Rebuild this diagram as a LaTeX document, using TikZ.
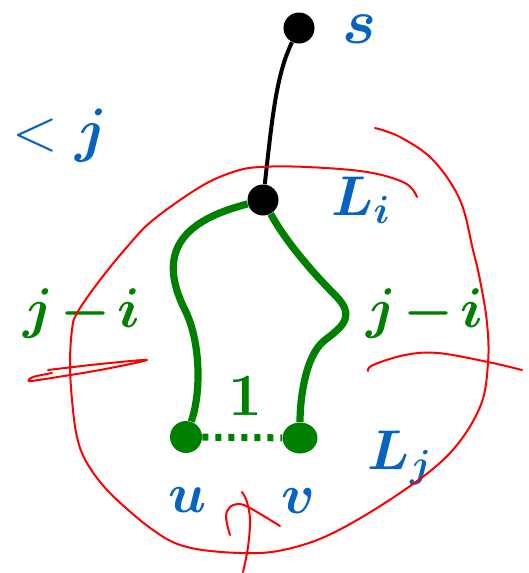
\documentclass[tikz,border=0pt]{standalone}
\usepackage{fix-cm}
\usepackage{amsmath}
\usepackage{xcolor}
\usepackage{tikz}
\usetikzlibrary{shapes.geometric}

\definecolor{lblue}{RGB}{5,99,193}
\definecolor{lgreen}{RGB}{0,128,0}

\begin{document}
\begin{tikzpicture}[
    x=0.5pt, y=-0.5pt,
    dot/.style={circle, fill=black, inner sep=0pt, minimum size=15.5pt},
    gdot/.style={circle, fill=lgreen, inner sep=0pt, minimum size=16pt},
    blk/.style={draw=black, line width=2pt},
    grn/.style={draw=lgreen, line width=3.6pt},
    cut/.style={draw=red, line width=1pt, line cap=round, line join=round},
    bl/.style={text=lblue, inner sep=0pt, font=\fontsize{28}{30}\selectfont\boldmath},
    gl/.style={text=lgreen, inner sep=0pt, font=\fontsize{28}{30}\selectfont\boldmath}
]
\useasboundingbox (0,0) rectangle (529,573);

% Vertices
\node[dot] (s)  at (299,28)  {};
\node[dot] (Li) at (263,200) {};
\node[gdot] (u) at (186,437) {};
\node[gdot, ellipse, minimum width=17.5pt, minimum height=15.5pt] (v) at (300,438) {};

% Paths
\draw[blk] (s) .. controls (276,75) and (272,120) .. (Li);
\draw[grn] (Li) .. controls (185,220) and (155,250) .. (185,310)
    .. controls (200,340) and (202,390) .. (u);
\draw[grn] (Li) .. controls (285,240) and (310,270) .. (335,295)
    .. controls (355,315) and (345,325) .. (325,340)
    .. controls (305,355) and (300,400) .. (v);
\draw[lgreen, line width=3.5pt, dash pattern=on 3pt off 3.5pt] (u) -- (v);

% Labels
\node[bl, font=\fontsize{32}{34}\selectfont\boldmath] (slab) at (359,29) {$s$};
\node[bl, font=\fontsize{30}{32}\selectfont] (lessj) at (60,136) {$<\boldsymbol{j}$};
\node[bl] (Lilab) at (361,200) {$L_i$};
\node[bl] (Ljlab) at (400,458) {$L_j$};
\node[bl] (ulab) at (188,500) {$u$};
\node[bl] (vlab) at (298,501) {$v$};
\node[gl] (leftji) at (82,314) {$j\mskip2mu{-}\mskip2mu i$};
\node[gl] (rightji) at (425,314) {$j\mskip2mu{-}\mskip2mu i$};
\node[gl, font=\fontsize{30}{32}\selectfont\boldmath] (one) at (245,396) {$1$};

% Hand-drawn cut strokes
\draw[cut] plot[smooth, tension=0.6] coordinates {
    (417,197) (405,183) (367,172) (307,167) (260,167) (233,172) (200,187)
    (153,220) (127,247) (100,280) (77,313) (72,330) (70,363) (72,400)
    (77,437) (87,463) (110,493) (153,530) (187,547) (240,553) (283,550)
    (333,533) (400,493) (450,453) (480,407) (488,363) (487,323) (480,280)
    (473,250) (460,200) (433,160) (400,137) (375,128)};
\draw[cut] plot[smooth, tension=0.5] coordinates {
    (48,370) (100,364) (147,360) (100,370) (45,379) (29,381) (33,377) (52,373)};
\draw[cut] plot[smooth, tension=0.6] coordinates {
    (368,371) (373,365) (405,355) (438,353) (488,362) (522,370)};
\draw[cut] plot[smooth, tension=0.6] coordinates {
    (230,535) (226,517) (230,507) (240,504) (250,508) (267,518) (280,526)};
\draw[cut] plot[smooth, tension=0.6] coordinates {
    (242,492) (247,502) (250,520) (248,547) (243,572)};

\end{tikzpicture}
\end{document}
